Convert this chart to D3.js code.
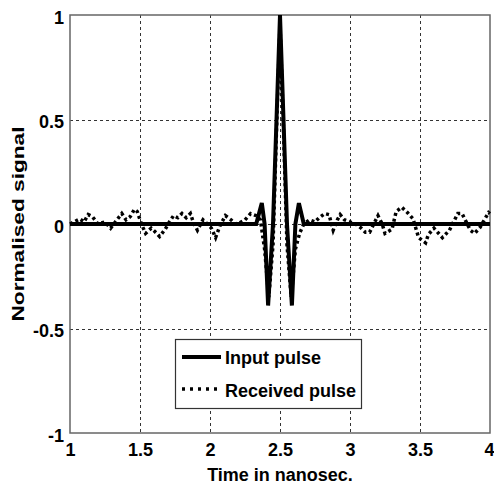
<!DOCTYPE html>
<html>
<head>
<meta charset="utf-8">
<script src="https://cdn.jsdelivr.net/npm/d3@7"></script>
<style>
  body { margin: 0; background: #fff; }
  text { font-family: "Liberation Sans", Arial, sans-serif; font-weight: bold; fill: #000; }
</style>
</head>
<body>
<div id="chart"></div>
<script>
// pulse data
const inputT = [1.0, 2.33, 2.37, 2.39, 2.415, 2.45, 2.5, 2.55, 2.585, 2.61, 2.635, 2.67, 4.0];
const inputV = [0, 0, 0.1, 0.0, -0.39, 0.0, 1.0, 0.0, -0.39, 0.0, 0.1, 0, 0];

const receivedT = [1.00, 1.03, 1.07, 1.10, 1.13, 1.16, 1.20, 1.25, 1.29, 1.33, 1.37, 1.40, 1.43, 1.46, 1.48,
  1.51, 1.54, 1.58, 1.62, 1.64, 1.68, 1.71, 1.74, 1.77, 1.80, 1.83, 1.86, 1.88, 1.91, 1.95, 1.98,
  2.01, 2.04, 2.07, 2.11, 2.15, 2.18, 2.21, 2.25, 2.29, 2.33, 2.36, 2.39, 2.42, 2.45, 2.475, 2.5,
  2.525, 2.55, 2.58, 2.61, 2.64, 2.67, 2.71, 2.75, 2.78, 2.82, 2.85, 2.88, 2.91, 2.93, 2.96, 3.00,
  3.04, 3.08, 3.11, 3.14, 3.17, 3.20, 3.23, 3.25, 3.30, 3.33, 3.37, 3.41, 3.45, 3.49, 3.54, 3.56,
  3.60, 3.64, 3.66, 3.71, 3.74, 3.77, 3.80, 3.83, 3.86, 3.89, 3.93, 3.96, 3.99, 4.00];
const receivedV = [0, 0.01, 0.024, 0.01, 0.045, 0.035, 0.0, 0.01, -0.02, 0.015, 0.05, 0.02, 0.035, 0.07, 0.06,
  0.0, -0.045, -0.02, -0.045, -0.06, -0.025, 0.01, 0.04, 0.03, 0.05, 0.03, 0.05, 0.01, -0.03, 0.02, 0.0,
  -0.02, -0.065, -0.01, 0.04, 0.02, 0.0, 0.005, 0.02, 0.05, 0.04, 0.02, -0.12, -0.35, -0.1, 0.45, 0.95,
  0.45, -0.1, -0.35, -0.12, -0.045, 0.0, 0.02, 0.01, 0.03, 0.05, 0.045, -0.03, 0.02, 0.045, 0.02, 0.01,
  0.0, -0.02, -0.04, -0.04, 0.0, 0.04, 0.0, -0.045, -0.025, 0.06, 0.08, 0.055, 0.025, -0.065, -0.09, -0.05,
  -0.02, -0.05, -0.065, -0.03, 0.01, 0.05, 0.05, 0.01, -0.03, -0.045, -0.015, 0.02, 0.055, 0.05];

const xTicks = [1, 1.5, 2, 2.5, 3, 3.5, 4];
const yTicks = [-1, -0.5, 0, 0.5, 1];
const legendLabels = ["Input pulse", "Received pulse"];

const width = 494, height = 484;
const margin = { top: 15, right: 4, bottom: 51, left: 70 };

const svg = d3.select('#chart').append('svg')
  .attr('width', width)
  .attr('height', height);

const x = d3.scaleLinear().domain([1, 4]).range([margin.left, width - margin.right]);
const y = d3.scaleLinear().domain([-1, 1]).range([height - margin.bottom, margin.top]);

// grid
const grid = svg.append('g').attr('stroke', '#333').attr('stroke-width', 1)
  .attr('stroke-dasharray', '3,3');
grid.selectAll('line.vx').data(xTicks.slice(1, -1)).enter().append('line')
  .attr('x1', d => Math.round(x(d)) + 0.5).attr('x2', d => Math.round(x(d)) + 0.5)
  .attr('y1', y(1)).attr('y2', y(-1));
grid.selectAll('line.hy').data(yTicks.slice(1, -1)).enter().append('line')
  .attr('y1', d => Math.round(y(d)) + 0.5).attr('y2', d => Math.round(y(d)) + 0.5)
  .attr('x1', x(1)).attr('x2', x(4));

// axes with labels (plain hyphen for negatives, like the original)
const fmt = d => String(d);
const xAxis = svg.append('g')
  .attr('transform', `translate(0,${y(-1)})`)
  .call(d3.axisBottom(x).tickValues(xTicks).tickSize(0).tickPadding(10).tickFormat(fmt));
const yAxis = svg.append('g')
  .attr('transform', `translate(${x(1)},0)`)
  .call(d3.axisLeft(y).tickValues(yTicks).tickSize(0).tickPadding(6).tickFormat(fmt));
[xAxis, yAxis].forEach(a => {
  a.select('.domain').remove();
  a.selectAll('text').style('font-size', '18px').style('font-family', '"Liberation Sans", Arial, sans-serif')
    .style('font-weight', 'bold').attr('fill', '#000');
});
yAxis.selectAll('text').attr('dy', '0.45em');
// keep the last x label inside the window
xAxis.selectAll('.tick').filter(d => d === 4).select('text')
  .attr('text-anchor', 'end').attr('x', 4);

// box
svg.append('rect')
  .attr('x', x(1)).attr('y', y(1))
  .attr('width', x(4) - x(1)).attr('height', y(-1) - y(1))
  .attr('fill', 'none').attr('stroke', '#666').attr('stroke-width', 1.5);

const line = d3.line().x(d => x(d[0])).y(d => y(d[1]));

svg.append('path')
  .datum(inputT.map((t, i) => [t, inputV[i]]))
  .attr('d', line)
  .attr('fill', 'none').attr('stroke', '#000').attr('stroke-width', 4)
  .attr('stroke-linejoin', 'miter');

svg.append('path')
  .datum(receivedT.map((t, i) => [t, receivedV[i]]))
  .attr('d', line)
  .attr('fill', 'none').attr('stroke', '#000').attr('stroke-width', 3.5)
  .attr('stroke-dasharray', '3,3');

// axis titles
svg.append('text')
  .attr('x', 280).attr('y', 481)
  .attr('text-anchor', 'middle')
  .style('font-size', '18px')
  .text('Time in nanosec.');

svg.append('text')
  .attr('transform', 'translate(24,224) rotate(-90)')
  .attr('text-anchor', 'middle')
  .attr('textLength', 195).attr('lengthAdjust', 'spacingAndGlyphs')
  .style('font-size', '17px')
  .text('Normalised signal');

// legend
const lg = svg.append('g');
lg.append('rect')
  .attr('x', 175.5).attr('y', 339.5).attr('width', 186).attr('height', 69)
  .attr('fill', '#fff').attr('stroke', '#333').attr('stroke-width', 1.2);
lg.append('line').attr('x1', 182).attr('x2', 221).attr('y1', 357).attr('y2', 357)
  .attr('stroke', '#000').attr('stroke-width', 4);
lg.append('line').attr('x1', 182).attr('x2', 221).attr('y1', 389).attr('y2', 389)
  .attr('stroke', '#000').attr('stroke-width', 3.5).attr('stroke-dasharray', '3,5');
lg.selectAll('text.lab').data(legendLabels).enter().append('text')
  .attr('x', 225).attr('y', (d, i) => 364 + i * 33)
  .style('font-size', '18px')
  .text(d => d);
</script>
</body>
</html>
